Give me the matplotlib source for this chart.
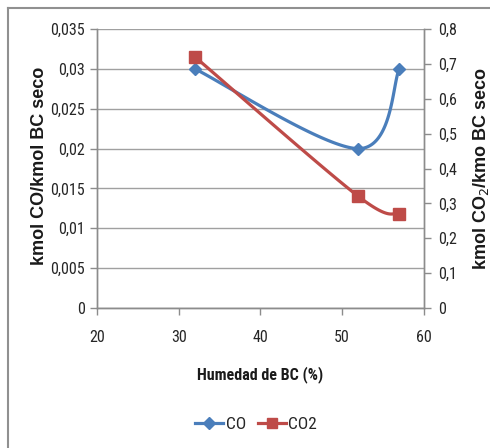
import numpy as np
import matplotlib
matplotlib.use("Agg")
import matplotlib.pyplot as plt
from matplotlib import font_manager
from matplotlib.lines import Line2D

humedad = [32, 52, 57]
co = [0.030, 0.020, 0.030]
co2 = [0.72, 0.32, 0.27]
left_ticks = [0, 0.005, 0.01, 0.015, 0.02, 0.025, 0.03, 0.035]
left_labels = ["0", "0,005", "0,01", "0,015", "0,02", "0,025", "0,03", "0,035"]
right_ticks = [0, 0.1, 0.2, 0.3, 0.4, 0.5, 0.6, 0.7, 0.8]
right_labels = ["0", "0,1", "0,2", "0,3", "0,4", "0,5", "0,6", "0,7", "0,8"]
x_ticks = [20, 30, 40, 50, 60]

names = {f.name for f in font_manager.fontManager.ttflist}
narrow = "Roboto Condensed" if "Roboto Condensed" in names else "Liberation Sans"
NARROW = [narrow, 'Liberation Sans', 'DejaVu Sans']
plt.rcParams['font.family'] = ['Liberation Sans', 'DejaVu Sans']


def smooth(xs, ys, n=60):
    # Excel-like smoothed line: cubic Bezier with Catmull-Rom control points
    x = np.asarray(xs, float)
    y = np.asarray(ys, float)
    m = len(x)
    outx, outy = [], []
    t = np.linspace(0, 1, n)
    for i in range(m - 1):
        p0 = np.array([x[i], y[i]])
        p3 = np.array([x[i + 1], y[i + 1]])
        prev = np.array([x[i - 1], y[i - 1]]) if i > 0 else p0
        nxt = np.array([x[i + 2], y[i + 2]]) if i + 2 < m else p3
        c1 = p0 + (p3 - prev) / 6.0
        c2 = p3 - (nxt - p0) / 6.0
        b = (np.outer((1 - t) ** 3, p0) + np.outer(3 * (1 - t) ** 2 * t, c1)
             + np.outer(3 * (1 - t) * t ** 2, c2) + np.outer(t ** 3, p3))
        outx.extend(b[:, 0]); outy.extend(b[:, 1])
    return np.array(outx), np.array(outy)


fig = plt.figure(figsize=(4.9, 4.48), dpi=100)
fig.patch.set_facecolor('white')
ax = fig.add_axes([0.198, 0.3125, 0.667, 0.6225])
ax2 = ax.twinx()

blue = '#4A7EBB'
red = '#BE4B48'
gray = '#8C8C8C'

sx, sy = smooth(humedad, co)
ax.plot(sx, sy, color=blue, lw=2.3, solid_capstyle='round', zorder=3)
ax.plot(humedad, co, ls='none', marker='D', ms=6.5, color=blue, zorder=4)

sx2, sy2 = smooth(humedad, co2)
ax2.plot(sx2, sy2, color=red, lw=2.3, solid_capstyle='round', zorder=3)
ax2.plot(humedad, co2, ls='none', marker='s', ms=8, color=red, zorder=4)

ax.set_xlim(20, 60)
ax.set_ylim(0, 0.035)
ax2.set_ylim(0, 0.8)
ax.set_xticks(x_ticks)
ax.set_xticklabels([str(v) for v in x_ticks])
ax.set_yticks(left_ticks)
ax.set_yticklabels(left_labels)
ax2.set_yticks(right_ticks)
ax2.set_yticklabels(right_labels)

ax.yaxis.grid(True, color='#A0A0A0', lw=1.0)
ax.set_axisbelow(True)

for a in (ax, ax2):
    for s in a.spines.values():
        s.set_color(gray)
        s.set_linewidth(1.0)
    a.spines['top'].set_visible(False)
    a.tick_params(colors=gray, length=5, width=1.0, labelcolor='#262626')
    for lab in a.get_xticklabels() + a.get_yticklabels():
        lab.set_fontfamily(NARROW)
        lab.set_fontsize(11.5)

ax.tick_params(axis='x', pad=11)
ax.tick_params(axis='y', pad=4)
ax2.tick_params(axis='y', pad=5)

ax.set_xlabel("Humedad de BC (%)", fontsize=11.5, fontweight='bold',
              family=NARROW, color='#1a1a1a')
ax.xaxis.set_label_coords(0.5, -0.207)
ax.set_ylabel("kmol CO/kmol BC seco", fontsize=13, fontweight='bold', color='#1a1a1a')
ax.yaxis.set_label_coords(-0.15, 0.51)
ax2.set_ylabel("kmol CO$_2$/kmo BC seco", fontsize=13, fontweight='bold',
               rotation=90, color='#1a1a1a')
ax2.yaxis.set_label_coords(1.143, 0.5)

handles = [Line2D([], [], color=blue, lw=2.3, marker='D', ms=6),
           Line2D([], [], color=red, lw=2.3, marker='s', ms=7)]
leg = fig.legend(handles, ["CO", "CO2"], loc='center', bbox_to_anchor=(0.523, 0.053),
                 ncol=2, frameon=False, handlelength=1.6, handletextpad=0.15,
                 columnspacing=0.7, prop={'family': NARROW, 'size': 12.5})
for t in leg.get_texts():
    t.set_color('#262626')

# outer chart frame (top and left edges visible)
fig.add_artist(Line2D([0.017, 1.0], [0.982, 0.982], transform=fig.transFigure,
                      color='#909090', lw=1.5))
fig.add_artist(Line2D([0.017, 0.017], [0.0, 0.982], transform=fig.transFigure,
                      color='#909090', lw=1.5))

fig.savefig("out.png", dpi=100, facecolor='white')
